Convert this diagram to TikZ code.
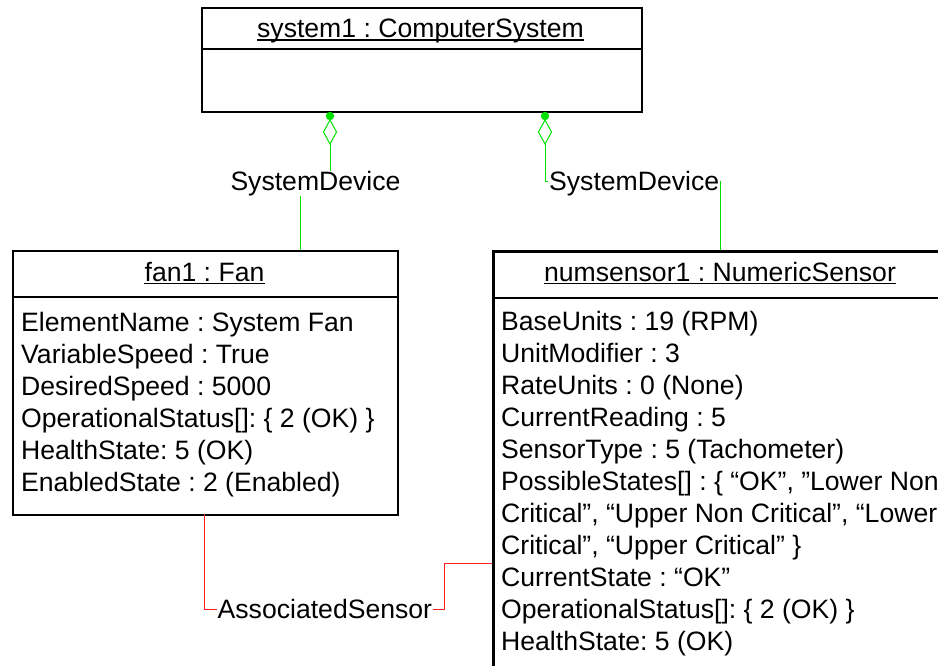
\documentclass[tikz,border=0pt]{standalone}
\usepackage{fontspec}
\setmainfont{Liberation Sans}
\frenchspacing
\definecolor{aggcol}{RGB}{0,225,0}
\definecolor{assoccol}{RGB}{255,30,30}
\tikzset{
  umlbox/.style={draw=black, line width=1.7pt, anchor=north west, inner sep=0pt, fill=white},
  divider/.style={line width=1.7pt},
  objtitle/.style={anchor=base, inner sep=0pt},
  uline/.style={line width=1.2pt},
  attr/.style={anchor=base west, inner sep=0pt},
  aggline/.style={draw=aggcol, line width=1pt},
  assocline/.style={draw=assoccol, line width=0.9pt},
  conlabel/.style={fill=white, inner xsep=1pt, inner ysep=0pt, text height=19pt, text depth=6pt},
}
\begin{document}
\begin{tikzpicture}[x=1pt,y=-1pt,font=\fontsize{26.6pt}{32pt}\selectfont]
\useasboundingbox (0,0) rectangle (938,665);
\clip (0,0) rectangle (938,665);

% ---- system box
\node[umlbox, minimum width=440pt, minimum height=104pt] (sys) at (201,7) {};
\draw[divider] (sys.west |- 0,49) -- (sys.east |- 0,49);
\node[objtitle] (systitle) at (420.5,37.5) {system1 : ComputerSystem};
\draw[uline] ([yshift=-2.5pt]systitle.base west) -- ([yshift=-2.5pt]systitle.base east);

% ---- fan box
\node[umlbox, minimum width=385pt, minimum height=264pt] (fan) at (12,250) {};
\draw[divider] (fan.west |- 0,297) -- (fan.east |- 0,297);
\node[objtitle] (fantitle) at (204.5,281) {fan1 : Fan};
\draw[uline] ([yshift=-2.5pt]fantitle.base west) -- ([yshift=-2.5pt]fantitle.base east);
\node[attr] (f1) at (21,331) {ElementName : System Fan};
\node[attr] (f2) at (21,363) {VariableSpeed : True};
\node[attr] (f3) at (21,395) {DesiredSpeed : 5000};
\node[attr] (f4) at (21,427) {OperationalStatus[]: \{ 2 (OK) \}};
\node[attr] (f5) at (21,459) {HealthState: 5 (OK)};
\node[attr] (f6) at (21,491) {EnabledState : 2 (Enabled)};

% ---- sensor box
\node[umlbox, line width=2.6pt, minimum width=456pt, minimum height=440pt] (sen) at (492,250) {};
\draw[divider, line width=2.6pt] (sen.west |- 0,298) -- (sen.east |- 0,298);
\node[objtitle] (sentitle) at (720,281) {numsensor1 : NumericSensor};
\draw[uline] ([yshift=-2.5pt]sentitle.base west) -- ([yshift=-2.5pt]sentitle.base east);
\node[attr] (s1) at (501,330) {BaseUnits : 19 (RPM)};
\node[attr] (s2) at (501,362) {UnitModifier : 3};
\node[attr] (s3) at (501,394) {RateUnits : 0 (None)};
\node[attr] (s4) at (501,426) {CurrentReading : 5};
\node[attr] (s5) at (501,458) {SensorType : 5 (Tachometer)};
\node[attr] (s6) at (501,490) {PossibleStates[] : \{ “OK”, ”Lower Non};
\node[attr] (s7) at (501,522) {Critical”, “Upper Non Critical”, “Lower};
\node[attr] (s8) at (501,554) {Critical”, “Upper Critical” \}};
\node[attr] (s9) at (501,586) {CurrentState : “OK”};
\node[attr] (s10) at (501,618) {OperationalStatus[]: \{ 2 (OK) \}};
\node[attr] (s11) at (501,650) {HealthState: 5 (OK)};

% ---- aggregation: system -> fan
\coordinate (d1) at (330,116);
\coordinate (f1top) at (300,250);
\draw[aggline] (330,144) -- (330,181) -- (300,181) -- (f1top);
\draw[aggline, fill=white] (330,120) -- (336.5,132) -- (330,144) -- (323.5,132) -- cycle;
\fill[aggcol] (d1) circle (4.2pt);
\node[conlabel, anchor=base] (sd1) at (315.5,190) {SystemDevice};

% ---- aggregation: system -> sensor
\coordinate (d2) at (545,116);
\coordinate (s1top) at (720,250);
\draw[aggline] (545,144) -- (545,181) -- (720,181) -- (s1top);
\draw[aggline, fill=white] (545,120) -- (551.5,132) -- (545,144) -- (538.5,132) -- cycle;
\fill[aggcol] (d2) circle (4.2pt);
\node[conlabel, anchor=base west] (sd2) at (548,190) {SystemDevice};

% ---- association fan -> sensor
\coordinate (fanbot) at (204,514);
\coordinate (senleft) at (492,563);
\draw[assocline] (fanbot) -- (204,609) -- (444,609) -- (444,563) -- (senleft);
\node[conlabel, anchor=base west] (as) at (216.5,618) {AssociatedSensor};
\end{tikzpicture}
\end{document}
